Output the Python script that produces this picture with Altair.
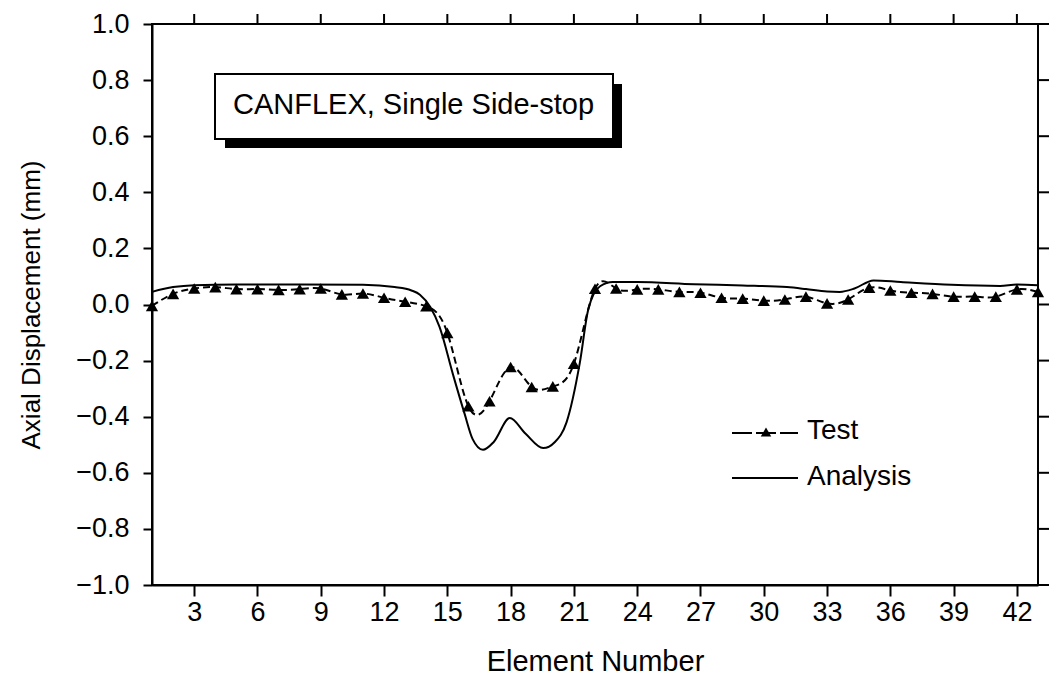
import altair as alt
import pandas as pd

# Measured test displacements, one per element
test_element = list(range(1, 44))
test_disp = [
    -0.005, 0.038, 0.057, 0.062, 0.055, 0.055, 0.052, 0.055, 0.057, 0.036,
    0.039, 0.024, 0.010, -0.006, -0.101, -0.363, -0.345, -0.223, -0.294, -0.292,
    -0.211, 0.056, 0.057, 0.054, 0.054, 0.045, 0.042, 0.024, 0.021, 0.014,
    0.018, 0.028, 0.004, 0.018, 0.060, 0.050, 0.042, 0.038, 0.028, 0.028,
    0.028, 0.054, 0.045,
]

# Analysis curve
ana_x = [1, 2, 3, 5, 8, 11, 12.5, 13.3, 13.7, 14.2, 14.63, 15.27, 15.82, 16.2,
         16.69, 17.2, 17.96, 18.7, 19.54, 20.1, 20.65, 21.28, 21.68, 22.24,
         22.85, 24, 26.7, 29, 31.1, 32, 33, 33.6, 34.3, 35.2, 36.5, 38.9, 41.2,
         42, 43]
ana_y = [0.045, 0.062, 0.069, 0.071, 0.071, 0.070, 0.062, 0.050, 0.035, -0.010,
         -0.080, -0.250, -0.390, -0.480, -0.518, -0.490, -0.405, -0.460, -0.512,
         -0.490, -0.420, -0.208, -0.018, 0.065, 0.080, 0.080, 0.072, 0.068,
         0.062, 0.055, 0.046, 0.045, 0.057, 0.086, 0.080, 0.070, 0.066, 0.071,
         0.069]

x_ticks = [3, 6, 9, 12, 15, 18, 21, 24, 27, 30, 33, 36, 39, 42]
y_ticks = [-1.0, -0.8, -0.6, -0.4, -0.2, 0.0, 0.2, 0.4, 0.6, 0.8, 1.0]

FONT = "Liberation Sans"
W, H = 886, 561

test_df = pd.DataFrame({"element": test_element, "disp": test_disp})
ana_df = pd.DataFrame({"element": ana_x, "disp": ana_y})
xt_df = pd.DataFrame({"t": x_ticks})
yt_df = pd.DataFrame({"t": y_ticks})

x_scale = alt.Scale(domain=[1, 43], nice=False, zero=False)
y_scale = alt.Scale(domain=[-1, 1], nice=False, zero=False)

x_bottom = alt.Axis(
    values=x_ticks, orient="bottom", grid=False, domainColor="black",
    domainWidth=2, tickColor="black", tickWidth=2, tickSize=11,
    labelFont=FONT, labelFontSize=27, labelColor="black", labelPadding=3,
    title="Element Number", titleFont=FONT, titleFontSize=29,
    titleFontWeight="normal", titleColor="black",
    titleX=W / 2, titleY=76, titleBaseline="middle", titleAlign="center",
)
y_left = alt.Axis(
    values=y_ticks, orient="left", format=".1f", grid=False,
    domainColor="black", domainWidth=2, tickColor="black", tickWidth=2,
    tickSize=9, labelFont=FONT, labelFontSize=27, labelColor="black",
    labelPadding=14, title="Axial Displacement (mm)", titleFont=FONT,
    titleFontSize=26, titleFontWeight="normal", titleColor="black",
    titleAngle=-90, titleX=-121, titleY=H / 2, titleBaseline="middle",
    titleAlign="center",
)

analysis = alt.Chart(ana_df).mark_line(
    color="black", strokeWidth=2, interpolate="monotone"
).encode(
    x=alt.X("element:Q", scale=x_scale, axis=x_bottom),
    y=alt.Y("disp:Q", scale=y_scale, axis=y_left),
)

test_line = alt.Chart(test_df).mark_line(
    color="black", strokeWidth=2, strokeDash=[7, 4], interpolate="natural"
).encode(
    x=alt.X("element:Q", scale=x_scale),
    y=alt.Y("disp:Q", scale=y_scale),
)

test_pts = alt.Chart(test_df).mark_point(
    shape="triangle-up", filled=True, color="black", size=150, opacity=1
).encode(
    x=alt.X("element:Q", scale=x_scale),
    y=alt.Y("disp:Q", scale=y_scale),
)

# Outward ticks on the top and right frame edges
top_ticks = alt.Chart(xt_df).mark_rule(color="black", strokeWidth=2).encode(
    x=alt.X("t:Q", scale=x_scale), y=alt.value(-10), y2=alt.value(0))
right_ticks = alt.Chart(yt_df).mark_rule(color="black", strokeWidth=2).encode(
    y=alt.Y("t:Q", scale=y_scale), x=alt.value(W), x2=alt.value(W + 11))

# Legend, placed in the plot area's pixel space
legend_names = ["Test", "Analysis"]
legend_df = pd.DataFrame({"name": legend_names})
leg_test_line = alt.Chart(legend_df.iloc[[0]]).mark_rule(
    color="black", strokeWidth=2, strokeDash=[20, 4]
).encode(x=alt.value(580), x2=alt.value(646), y=alt.value(409))
leg_test_pt = alt.Chart(legend_df.iloc[[0]]).mark_point(
    shape="triangle-up", filled=True, color="black", size=110, opacity=1
).encode(x=alt.value(614), y=alt.value(408))
leg_ana_line = alt.Chart(legend_df.iloc[[1]]).mark_rule(
    color="black", strokeWidth=2
).encode(x=alt.value(580), x2=alt.value(646), y=alt.value(454))
leg_test_text = alt.Chart(legend_df.iloc[[0]]).mark_text(
    align="left", baseline="middle", font=FONT, fontSize=28, color="black"
).encode(x=alt.value(655), y=alt.value(407), text="name:N")
leg_ana_text = alt.Chart(legend_df.iloc[[1]]).mark_text(
    align="left", baseline="middle", font=FONT, fontSize=28, color="black"
).encode(x=alt.value(655), y=alt.value(453), text="name:N")

# Caption box with drop shadow
caption = ["CANFLEX, Single Side-stop"]
cap_df = pd.DataFrame({"label": caption})
shadow = alt.Chart(cap_df).mark_rect(color="black").encode(
    x=alt.value(73), x2=alt.value(470), y=alt.value(60), y2=alt.value(124))
box = alt.Chart(cap_df).mark_rect(
    fill="white", stroke="black", strokeWidth=2
).encode(x=alt.value(63), x2=alt.value(461), y=alt.value(50),
         y2=alt.value(115))
cap_text = alt.Chart(cap_df).mark_text(
    align="left", baseline="middle", font=FONT, fontSize=29, color="black"
).encode(x=alt.value(81), y=alt.value(81), text="label:N")

chart = alt.layer(
    analysis, test_line, test_pts, top_ticks, right_ticks,
    leg_test_line, leg_ana_line, leg_test_pt, leg_test_text, leg_ana_text,
    shadow, box, cap_text,
).properties(
    width=W, height=H,
    autosize="none",
    padding={"left": 152, "top": 24, "right": 13, "bottom": 98},
    background="white",
).configure_view(stroke="black", strokeWidth=2)

chart.save("out.html", embed_options={"renderer": "svg", "actions": False})
